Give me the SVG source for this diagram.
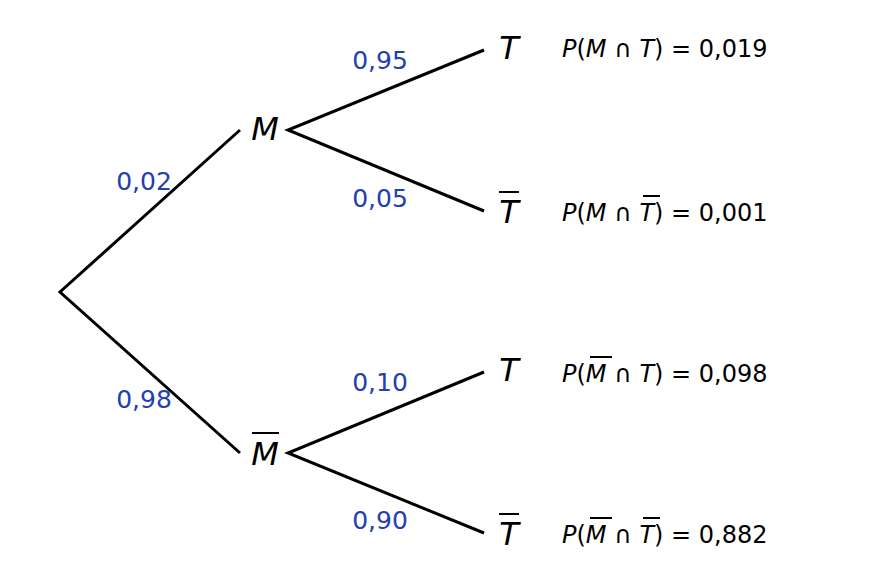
<svg xmlns="http://www.w3.org/2000/svg" width="890" height="584" viewBox="0 0 890 584">
<style>
.e{stroke:#000;stroke-width:3;fill:none}
.b{stroke:#000;stroke-width:2}
.n{font-family:"DejaVu Sans",sans-serif;font-style:italic;font-size:32px;text-anchor:middle}
.p{font-family:"DejaVu Sans",sans-serif;font-size:25px;fill:#2240b0;text-anchor:middle}
.r{font-family:"DejaVu Sans",sans-serif;font-size:24px}
.i{font-style:italic}
</style>
<rect width="890" height="584" fill="#fff"/>
<g id="connectors">
<path class="e" d="M240,130L60,292L240,453M484,50L288,130L484,211M484,372L288,453L484,533"/>
</g>
<g id="labels">
<text class="p" x="144" y="190">0,02</text>
<text class="p" x="144" y="408">0,98</text>
<text class="p" x="380" y="69">0,95</text>
<text class="p" x="380" y="207">0,05</text>
<text class="p" x="380" y="391">0,10</text>
<text class="p" x="380" y="529">0,90</text>
</g>
<g id="M"><text class="n" x="265" y="140">M</text></g>
<g id="Mbar"><text class="n" x="265" y="465">M</text><line class="b" x1="252" y1="433" x2="279" y2="433"/></g>
<g id="T1"><text class="n" x="509" y="59">T</text></g>
<g id="T2"><text class="n" x="509" y="223">T</text><line class="b" x1="499" y1="192" x2="519" y2="192"/></g>
<g id="T3"><text class="n" x="509" y="381">T</text></g>
<g id="T4"><text class="n" x="509" y="545">T</text><line class="b" x1="499" y1="514" x2="519" y2="514"/></g>
<g id="results">
<text class="r" x="562" y="57"><tspan class="i">P</tspan>(<tspan class="i">M</tspan> ∩ <tspan class="i">T</tspan>) = 0,019</text>
<text class="r" x="562" y="221"><tspan class="i">P</tspan>(<tspan class="i">M</tspan> ∩ <tspan class="i">T</tspan>) = 0,001</text>
<text class="r" x="562" y="382"><tspan class="i">P</tspan>(<tspan class="i">M</tspan> ∩ <tspan class="i">T</tspan>) = 0,098</text>
<text class="r" x="562" y="543"><tspan class="i">P</tspan>(<tspan class="i">M</tspan> ∩ <tspan class="i">T</tspan>) = 0,882</text>
<line class="b" x1="643" y1="196" x2="660" y2="196" stroke-width="1.5"/>
<line class="b" x1="590" y1="357" x2="612" y2="357" stroke-width="1.5"/>
<line class="b" x1="590" y1="518" x2="612" y2="518" stroke-width="1.5"/>
<line class="b" x1="643" y1="518" x2="660" y2="518" stroke-width="1.5"/>
</g>
</svg>
